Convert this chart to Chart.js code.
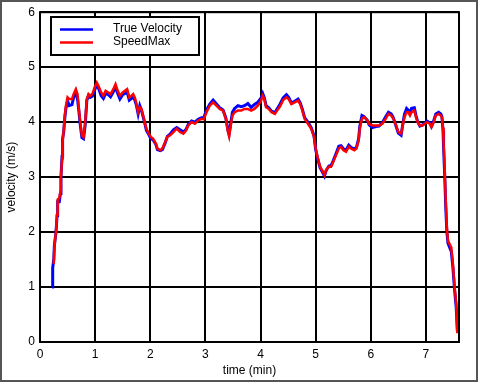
<!DOCTYPE html>
<html><head><meta charset="utf-8">
<script src="https://cdn.jsdelivr.net/npm/chart.js@4.4.0/dist/chart.umd.min.js"></script>
<style>html,body{margin:0;padding:0;background:#fff}#wrap{width:478px;height:382px}</style>
</head><body><div id="wrap"><canvas id="c" width="478" height="382"></canvas></div>
<script>
const times=[
0.22,0.23,0.25,0.26,0.29,0.31,0.32,0.35,0.37,0.38,
0.40,0.41,0.43,0.45,0.47,0.50,0.53,0.58,0.61,0.65,
0.68,0.70,0.73,0.76,0.79,0.82,0.85,0.88,0.91,0.95,
0.99,1.03,1.06,1.11,1.15,1.19,1.24,1.28,1.33,1.37,
1.41,1.45,1.50,1.54,1.58,1.62,1.66,1.69,1.72,1.75,
1.78,1.81,1.84,1.87,1.90,1.93,1.96,2.01,2.05,2.10,
2.13,2.18,2.22,2.27,2.31,2.36,2.42,2.48,2.54,2.60,
2.65,2.69,2.75,2.81,2.87,2.93,2.97,3.02,3.08,3.14,
3.20,3.26,3.32,3.37,3.41,3.43,3.46,3.49,3.53,3.59,
3.65,3.71,3.77,3.83,3.89,3.95,4.01,4.04,4.07,4.10,
4.15,4.20,4.26,4.30,4.35,4.41,4.47,4.51,4.56,4.62,
4.68,4.72,4.76,4.80,4.86,4.92,4.97,5.00,5.04,5.08,
5.13,5.16,5.19,5.24,5.28,5.32,5.37,5.42,5.46,5.50,
5.55,5.60,5.64,5.70,5.74,5.78,5.80,5.84,5.88,5.94,
5.97,6.03,6.09,6.15,6.21,6.27,6.32,6.37,6.41,6.46,
6.50,6.55,6.58,6.61,6.65,6.68,6.71,6.74,6.79,6.82,
6.85,6.89,6.94,6.98,7.02,7.07,7.10,7.13,7.18,7.23,
7.27,7.29,7.31,7.32,7.34,7.36,7.38,7.40,7.43,7.46,
7.49,7.52,7.55,7.57];
const trueVelocity=[
1.00,1.35,1.50,1.75,2.00,2.30,2.55,2.55,2.70,3.00,
3.38,3.70,3.82,4.08,4.25,4.38,4.30,4.32,4.45,4.55,
4.42,4.25,3.95,3.72,3.70,3.95,4.40,4.48,4.45,4.47,
4.58,4.68,4.62,4.48,4.43,4.52,4.50,4.46,4.55,4.64,
4.52,4.42,4.50,4.52,4.55,4.40,4.43,4.47,4.40,4.30,
4.15,4.30,4.22,4.10,3.98,3.85,3.80,3.70,3.68,3.60,
3.50,3.48,3.50,3.62,3.74,3.78,3.86,3.90,3.86,3.82,
3.87,3.96,4.02,4.00,4.05,4.08,4.08,4.22,4.33,4.40,
4.33,4.26,4.22,4.08,3.85,3.78,3.98,4.18,4.25,4.30,
4.28,4.30,4.34,4.27,4.32,4.36,4.44,4.52,4.44,4.30,
4.26,4.20,4.17,4.24,4.32,4.44,4.50,4.45,4.35,4.38,
4.42,4.35,4.23,4.08,4.00,3.90,3.75,3.50,3.32,3.17,
3.08,3.02,3.12,3.20,3.21,3.30,3.43,3.56,3.57,3.52,
3.49,3.58,3.54,3.51,3.54,3.70,3.92,4.12,4.10,4.03,
3.95,3.90,3.92,3.93,3.99,4.10,4.18,4.15,4.08,3.92,
3.80,3.76,3.96,4.14,4.25,4.22,4.16,4.25,4.26,4.12,
4.01,3.93,3.95,3.98,4.02,3.99,3.92,3.99,4.15,4.18,
4.15,4.10,3.85,3.55,3.05,2.45,2.00,1.80,1.72,1.65,
1.35,0.95,0.62,0.20];
const speedMax=[
null,null,1.42,1.72,2.02,2.32,2.59,2.62,2.74,2.98,
3.34,3.64,3.85,4.12,4.30,4.45,4.42,4.42,4.51,4.60,
4.51,4.30,4.00,3.76,3.73,4.00,4.42,4.51,4.48,4.51,
4.63,4.72,4.66,4.54,4.48,4.57,4.54,4.51,4.60,4.69,
4.57,4.48,4.54,4.57,4.60,4.45,4.48,4.51,4.45,4.33,
4.18,4.27,4.24,4.12,4.00,3.88,3.82,3.73,3.70,3.61,
3.52,3.49,3.52,3.64,3.73,3.76,3.82,3.88,3.82,3.79,
3.85,3.94,4.00,3.97,4.03,4.06,4.05,4.18,4.30,4.36,
4.30,4.24,4.21,4.06,3.82,3.74,3.94,4.12,4.18,4.21,
4.21,4.24,4.24,4.21,4.24,4.30,4.39,4.48,4.42,4.27,
4.24,4.18,4.15,4.21,4.28,4.40,4.45,4.42,4.33,4.36,
4.39,4.33,4.21,4.06,3.97,3.88,3.73,3.52,3.34,3.19,
3.10,3.04,3.13,3.19,3.19,3.28,3.40,3.52,3.55,3.49,
3.46,3.55,3.52,3.49,3.52,3.67,3.88,4.06,4.09,4.03,
3.97,3.94,3.94,3.94,3.97,4.06,4.15,4.12,4.06,3.94,
3.82,3.79,3.94,4.09,4.18,4.18,4.12,4.18,4.21,4.09,
4.00,3.94,3.94,3.97,4.00,3.97,3.91,3.97,4.12,4.15,
4.12,4.08,3.90,3.64,3.16,2.56,2.08,1.84,1.78,1.72,
1.42,1.00,0.70,0.16];
const xTicks=[0,1,2,3,4,5,6,7];
const yTicks=[0,1,2,3,4,5,6];
const seriesNames=['True Velocity','SpeedMax'];
const xTitle='time (min)';
const yTitle='velocity (m/s)';

const FONT="'Liberation Sans', Arial, sans-serif";
const toPts=(vals)=>times.map((t,i)=>({x:t,y:vals[i]}));

const framePlugin={
  id:'frame',
  afterDraw(chart){
    const {ctx,chartArea:a}=chart;
    ctx.save();
    // plot frame
    ctx.strokeStyle='#000';ctx.lineWidth=2;
    ctx.strokeRect(a.left,a.top,a.right-a.left,a.bottom-a.top);
    // legend box
    const lx=51,ly=17,lw=148,lh=38;
    ctx.fillStyle='#fff';ctx.fillRect(lx,ly,lw,lh);
    ctx.strokeRect(lx,ly,lw,lh);
    const ds=chart.data.datasets;
    const rows=[29.5,42.5];
    ctx.font='12px '+FONT;ctx.textBaseline='middle';ctx.textAlign='left';
    ds.forEach((d,i)=>{
      ctx.strokeStyle=d.borderColor;ctx.lineWidth=2.5;
      ctx.beginPath();ctx.moveTo(60,rows[i]);ctx.lineTo(93,rows[i]);ctx.stroke();
      ctx.fillStyle='#000';ctx.fillText(d.label,113,rows[i]-1);
    });
    // outer figure border
    ctx.strokeStyle='#555';ctx.lineWidth=2;
    ctx.strokeRect(1,1,476,380);
    ctx.restore();
  }
};

new Chart(document.getElementById('c'),{
  type:'line',
  data:{datasets:[
    {label:seriesNames[0],data:toPts(trueVelocity),borderColor:'#0000ff',borderWidth:3,pointRadius:0,tension:0,order:2},
    {label:seriesNames[1],data:toPts(speedMax),borderColor:'#ff0000',borderWidth:2.5,pointRadius:0,tension:0,order:1}
  ]},
  options:{
    responsive:false,animation:false,
    layout:{padding:{top:9,right:19,left:0,bottom:0}},
    plugins:{legend:{display:false},tooltip:{enabled:false}},
    scales:{
      x:{type:'linear',min:0,max:7.6,
        afterBuildTicks:(s)=>{s.ticks=xTicks.map(v=>({value:v}));},
        afterFit:(s)=>{s.height=40;},
        grid:{color:'#000',lineWidth:2,drawTicks:false},
        border:{display:false},
        ticks:{color:'#000',padding:5,font:{family:FONT,size:12}},
        title:{display:true,text:xTitle,color:'#000',font:{family:FONT,size:12},padding:{top:2,bottom:4}}
      },
      y:{type:'linear',min:0,max:6,
        afterBuildTicks:(s)=>{s.ticks=yTicks.map(v=>({value:v}));},
        afterFit:(s)=>{s.width=40;},
        grid:{color:'#000',lineWidth:2,drawTicks:false},
        border:{display:false},
        ticks:{color:'#000',padding:5,font:{family:FONT,size:12}},
        title:{display:true,text:yTitle,color:'#000',font:{family:FONT,size:12},padding:{top:4,bottom:2}}
      }
    }
  },
  plugins:[framePlugin]
});
</script>
</body></html>
